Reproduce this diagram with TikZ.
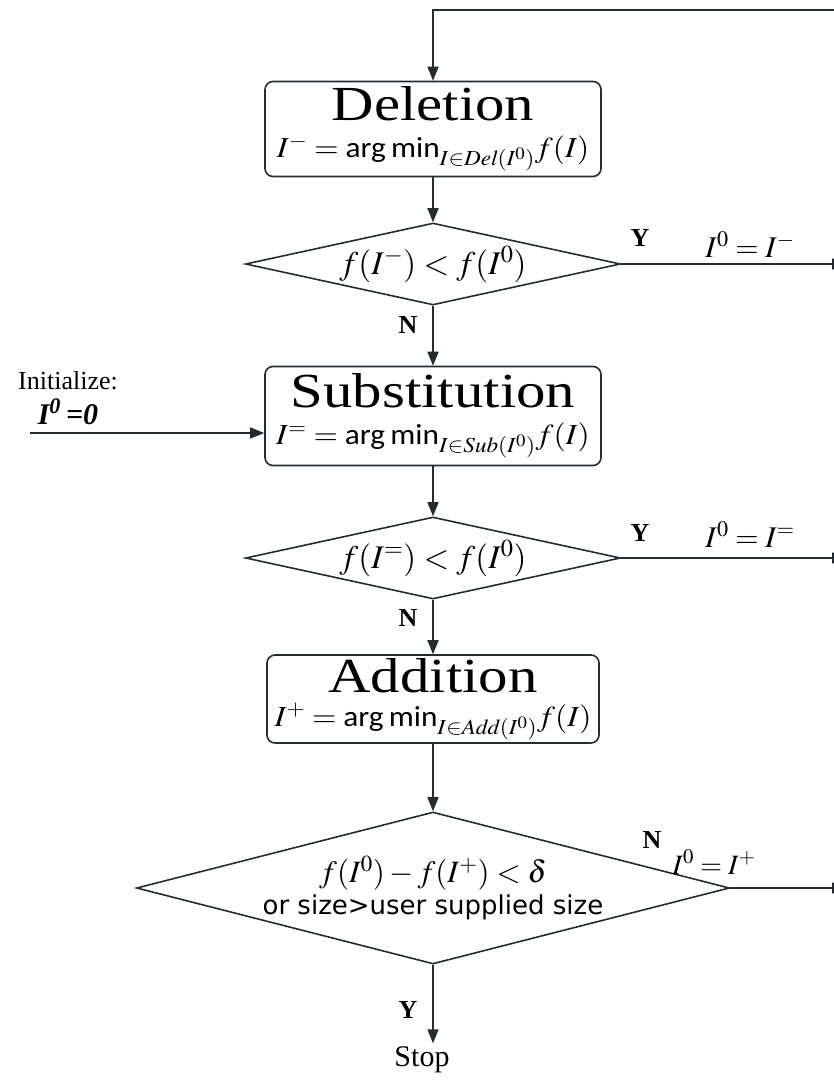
\documentclass[tikz,border=0pt]{standalone}
\usepackage{graphicx}
\usepackage{mathptmx}
\usepackage{fontspec}
\setmainfont{Liberation Serif}
\newfontfamily\titlefont[FakeStretch=1.2]{Liberation Serif}
\newfontfamily\argfont{Carlito}
\newfontfamily\condfont{DejaVu Sans}
\usetikzlibrary{arrows.meta,shapes.geometric,positioning}
\definecolor{ink}{RGB}{34,44,50}
\newcommand{\argmin}{\mbox{\argfont arg\,min}}
\newcommand{\fsz}[1]{\fontsize{#1}{#1}\selectfont}
\newcommand{\wide}[1]{\scalebox{1.08}[1]{#1}}
\begin{document}
\begin{tikzpicture}[x=1pt,y=-1pt,>={Triangle[length=14pt,width=11pt]},
    procbox/.style={draw=ink,rounded corners=8pt,line width=1.6pt,minimum width=336pt,align=center,inner sep=0pt,font=\fsz{40}},
    decision/.style={draw=ink,diamond,line width=1.6pt,inner sep=0pt,align=center},
    flow/.style={->,draw=ink,line width=1.6pt},
    yn/.style={font=\fsz{26}\bfseries}]
    \useasboundingbox (0,0) rectangle (834,1082);

    % boxes
    \node[procbox,minimum height=95pt] (del) at (433,129)
        {{\titlefont\fsz{49}Deletion}\\[-3pt]{\fsz{29}\wide{$I^{-}=\argmin_{I\in \mathit{Del}(I^0)} f(I)$}}};
    \node[procbox,minimum height=99pt] (sub) at (433,416)
        {{\titlefont\fsz{49}Substitution}\\[-3pt]{\fsz{29}\wide{$I^{=}=\argmin_{I\in \mathit{Sub}(I^0)} f(I)$}}};
    \node[procbox,minimum height=88pt,minimum width=332pt] (add) at (433,699)
        {{\titlefont\fsz{49}Addition}\\[-6pt]{\fsz{29}\wide{$I^{+}=\argmin_{I\in \mathit{Add}(I^0)} f(I)$}}};

    % decisions
    \node[decision,aspect=4.57,minimum width=375pt,minimum height=82pt] (dec1) at (433,264)
        {\fsz{33}$f(I^{-})<f(I^0)$};
    \node[decision,aspect=4.57,minimum width=375pt,minimum height=82pt] (dec2) at (433,558)
        {\fsz{33}$f(I^{=})<f(I^0)$};
    \node[decision,aspect=3.9,minimum width=593pt,minimum height=152pt,
        label={[align=center,font=\fsz{34}]center:{{\fsz{31}$f(I^0)-f(I^{+})<\delta$}\\[-2pt]{\condfont\fsz{26}or size>user supplied size}}}]
        (dec3) at (433,888) {};

    \node[font=\fsz{30}] (stop) at (422,1060) {Stop};
    \node[font=\fsz{26},align=center] (init) at (68,398)
        {Initialize:\\[8pt]{\fsz{30}\textbf{\textit{I\textsuperscript{0}\,=0}}}};

    % free ends
    \coordinate (ret) at (846,10);
    \coordinate (out1) at (846,264);
    \coordinate (out2) at (846,558);
    \coordinate (out3) at (846,888);
    \coordinate (start) at (30,433);

    % connectors
    \draw[flow] (ret) -| (del.north);
    \draw[flow] (del) -- (dec1);
    \draw[flow] (dec1) -- (sub);
    \draw[flow] (sub) -- (dec2);
    \draw[flow] (dec2) -- (add);
    \draw[flow] (add) -- (dec3);
    \draw[flow] (dec3.south) -- (dec3.south |- stop.north);
    \draw[flow] (dec1.east) -- (out1);
    \draw[flow] (dec2.east) -- (out2);
    \draw[flow] (dec3.east) -- (out3);
    \draw[flow] (start) -- (start -| sub.west);

    % labels
    \node[yn] (y1) at (640,238) {Y};
    \node[yn] (y2) at (640,533) {Y};
    \node[yn] (n3) at (652,840) {N};
    \node[yn] (n1) at (408,325) {N};
    \node[yn] (n2) at (408,618) {N};
    \node[yn] (y3) at (408,1010) {Y};
    \node[font=\fsz{30}] (set1) at (750,245) {$I^0=I^{-}$};
    \node[font=\fsz{30}] (set2) at (750,535) {$I^0=I^{=}$};
    \node[font=\fsz{28}] (set3) at (714,862) {$I^0=I^{+}$};
\end{tikzpicture}
\end{document}
